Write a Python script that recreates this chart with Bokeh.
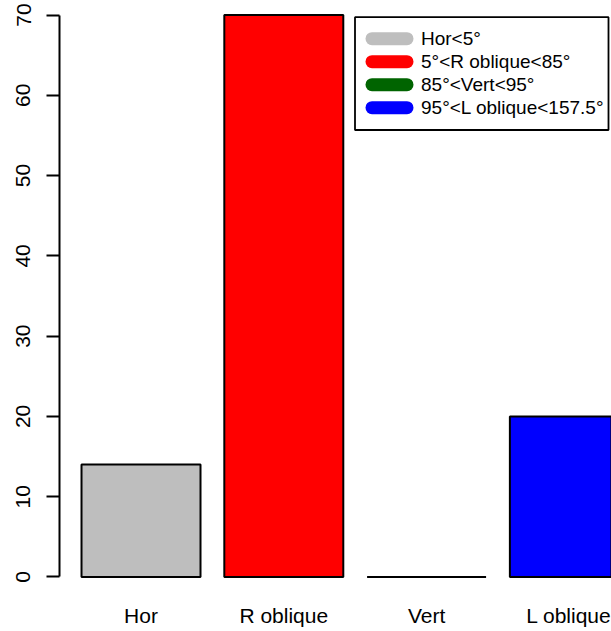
from bokeh.plotting import figure
from bokeh.models import (Range1d, FixedTicker, Legend, LegendItem, BoxAnnotation,
                          ColumnDataSource)
from bokeh.embed import file_html
from bokeh.resources import INLINE

# ---- data ----
categories = ["Hor", "R oblique", "Vert", "L oblique"]
counts = [14, 70, 0, 20]
bar_colors = ["#BEBEBE", "#FF0000", "#006400", "#0000FF"]
legend_labels = ["Hor<5°", "5°<R oblique<85°", "85°<Vert<95°", "95°<L oblique<157.5°"]
y_ticks = [0, 10, 20, 30, 40, 50, 60, 70]

# R barplot layout: bar width 1, space 0.2
centers = [round(0.7 + 1.2 * i, 3) for i in range(len(categories))]

src = ColumnDataSource(dict(x=centers, top=counts, color=bar_colors, name=categories))

FONT = "Liberation Sans"

# ---- layout ----
W, H = 611, 631
FRAME_L, FRAME_B_BORDER = 59, 46
X0, X1 = 0.015, 4.654
Y0, Y1 = -1.06, 71.81
frame_w = W - FRAME_L
frame_h = H - FRAME_B_BORDER

p = figure(width=W, height=H, output_backend="svg", toolbar_location=None,
           x_range=Range1d(X0, X1), y_range=Range1d(Y0, Y1),
           min_border_left=FRAME_L, min_border_right=0, min_border_top=0,
           min_border_bottom=FRAME_B_BORDER)
p.outline_line_color = None
p.xgrid.visible = False
p.ygrid.visible = False
p.background_fill_color = "white"
p.border_fill_color = "white"

p.vbar(x="x", top="top", bottom=0, width=1, fill_color="color",
       line_color="black", line_width=2, source=src)

# y axis
ya = p.yaxis[0]
ya.bounds = (0, 70)
ya.ticker = FixedTicker(ticks=y_ticks)
ya.major_label_orientation = "vertical"
ya.major_tick_out = 13
ya.major_tick_in = 0
ya.minor_tick_line_color = None
ya.axis_line_width = 2
ya.major_tick_line_width = 2
ya.axis_line_color = "black"
ya.major_tick_line_color = "black"
ya.major_label_text_font = FONT
ya.major_label_text_font_size = "21px"
ya.major_label_text_color = "black"
ya.major_label_standoff = 16

# x axis (labels only)
xa = p.xaxis[0]
xa.ticker = FixedTicker(ticks=centers)
xa.major_label_overrides = {c: n for c, n in zip(centers, categories)}
xa.axis_line_color = None
xa.major_tick_line_color = None
xa.minor_tick_line_color = None
xa.major_label_text_font = FONT
xa.major_label_text_font_size = "21px"
xa.major_label_text_color = "black"
xa.major_label_standoff = 12

# ---- legend ----
# legend box (screen units, measured from frame left / frame bottom)
box = BoxAnnotation(left=295.5, right=549, top=568.3, bottom=455.5,
                    left_units="screen", right_units="screen",
                    top_units="screen", bottom_units="screen",
                    fill_alpha=0.0,
                    line_color="black", line_width=1.8, line_alpha=1.0)
p.add_layout(box)

# legend keys: thick round-capped strokes (legend glyphs ignore line_cap,
# so they are drawn as segments placed at the legend row positions)
KEY_SX0, KEY_SX1 = 371.5, 406.5          # canvas px
ROW0_SY, ROW_PITCH = 38.2, 23.0          # canvas px


def sx_to_x(sx):
    return X0 + (sx - FRAME_L) / frame_w * (X1 - X0)


def sy_to_y(sy):
    return Y1 - sy / frame_h * (Y1 - Y0)


key_y = [sy_to_y(ROW0_SY + ROW_PITCH * i) for i in range(len(legend_labels))]
key_src = ColumnDataSource(dict(
    x0=[sx_to_x(KEY_SX0)] * len(key_y), x1=[sx_to_x(KEY_SX1)] * len(key_y),
    y=key_y, color=bar_colors))
p.segment(x0="x0", y0="y", x1="x1", y1="y", line_color="color",
          line_width=13, line_cap="round", source=key_src)

nan = float("nan")
items = []
for lab, col in zip(legend_labels, bar_colors):
    r = p.line(x=[nan], y=[nan], line_color=col, line_alpha=0.0, line_width=13)
    items.append(LegendItem(label=lab, renderers=[r]))

legend = Legend(items=items, location=(312, 466), padding=0, margin=0, spacing=0,
                label_height=23, glyph_height=23, glyph_width=35, label_standoff=15,
                label_text_font=FONT, label_text_font_size="19px",
                label_text_color="black",
                border_line_alpha=0, background_fill_alpha=0)
p.add_layout(legend)

open("out.html", "w").write(file_html(p, INLINE))
